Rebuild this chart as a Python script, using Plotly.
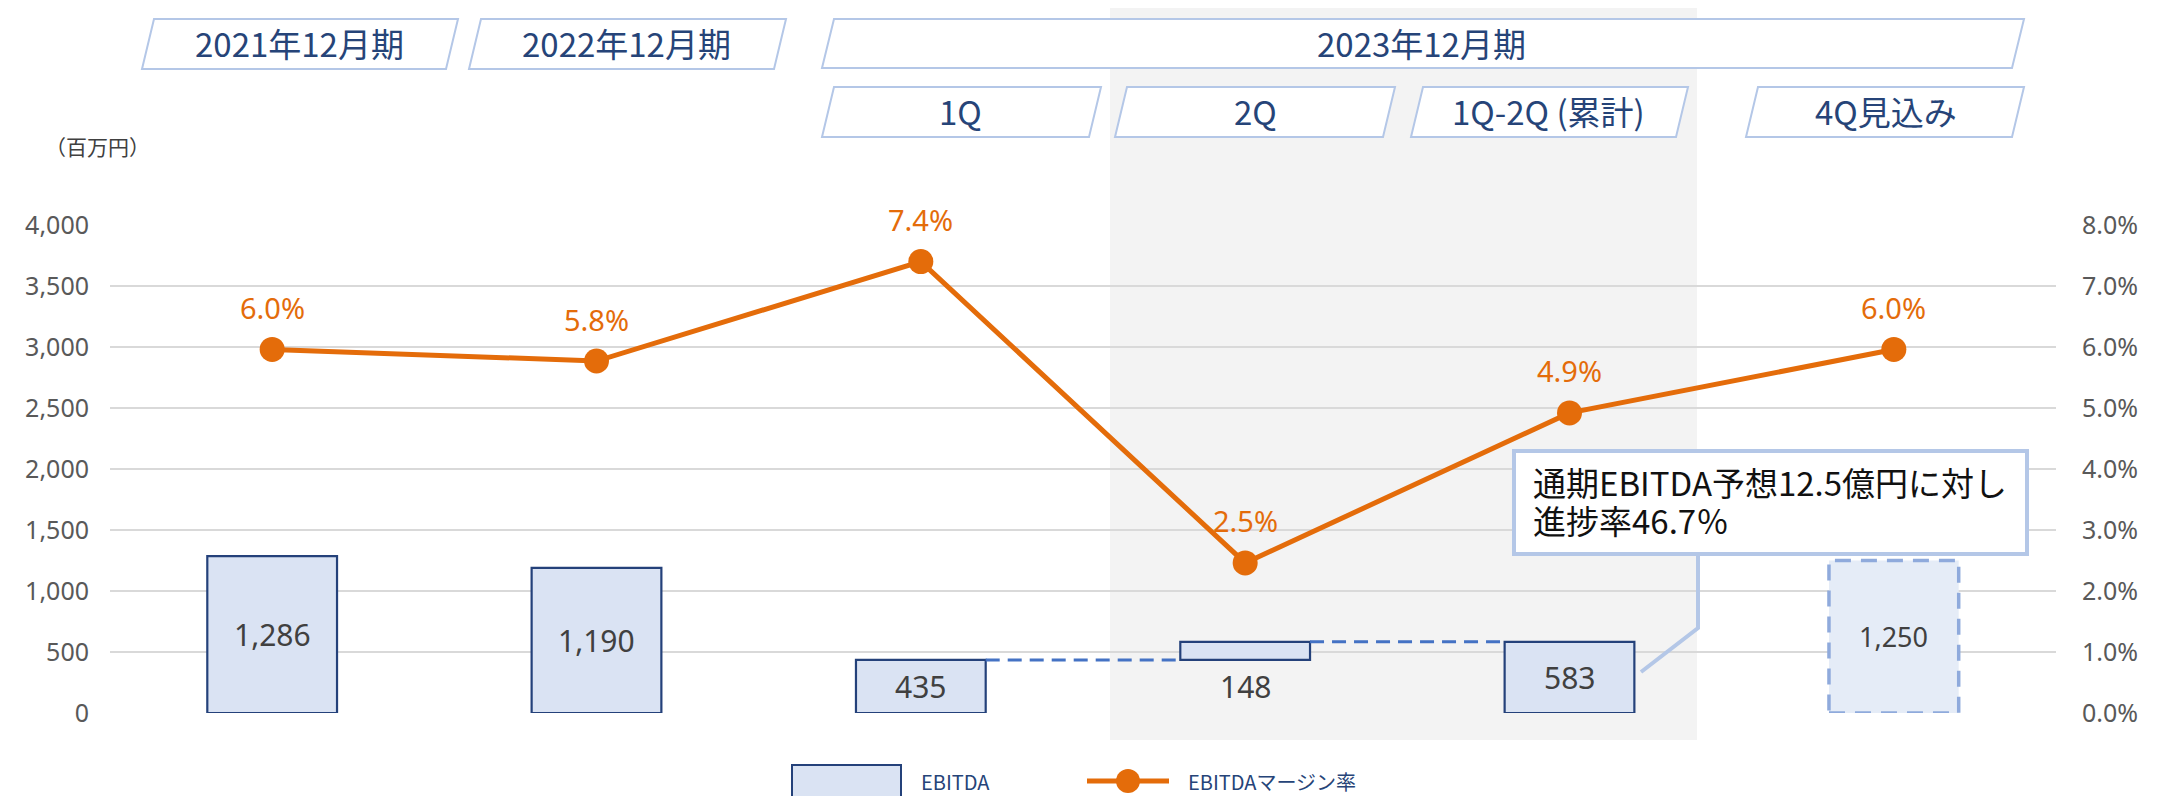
import plotly.graph_objects as go

# ---------------- data ----------------
categories = ["2021年12月期", "2022年12月期", "1Q", "2Q", "1Q-2Q (累計)", "4Q見込み"]
ebitda_actual = [1286, 1190, 435, 148, 583]
ebitda_base = [0, 0, 0, 435, 0]
ebitda_forecast = [1250]
margin_pct = [5.96, 5.77, 7.40, 2.46, 4.92, 5.96]
left_ticks = [0, 500, 1000, 1500, 2000, 2500, 3000, 3500, 4000]
right_ticks = [0, 1, 2, 3, 4, 5, 6, 7, 8]
callout_lines = ["通期EBITDA予想12.5億円に対し", "進捗率46.7％"]
unit_label = "（百万円）"
legend_names = ["EBITDA", "EBITDAマージン率"]

OFF = 8                      # page body margin offset
W, H = 2159 - OFF, 796 - OFF
L, R, T, B = 110, 2056, 225, 713  # plot area in page pixels


def px(x):
    return (x - L) / (R - L)


def py(y):
    return (B - y) / (B - T)


ORANGE = "#E46C0A"
NAVY = "#24417A"
BARFILL = "#DAE3F3"
TXTBLUE = "#264478"
BOXLINE = "#B4C7E7"
JP = "Noto Sans CJK JP"
NUM = "Noto Sans"

fig = go.Figure()

n_act = len(ebitda_actual)
x_act = list(range(n_act))
x_fc = [n_act + i for i in range(len(ebitda_forecast))]
x_all = x_act + x_fc
BW = 0.4

fig.add_trace(go.Bar(
    x=x_act, y=ebitda_actual, base=ebitda_base, width=BW,
    marker=dict(color=BARFILL, line=dict(color=NAVY, width=2.2)),
    name=legend_names[0], showlegend=False, hoverinfo="skip"))
fig.add_trace(go.Bar(
    x=x_fc, y=ebitda_forecast, width=BW,
    marker=dict(color="#E5ECF7", line=dict(width=0)),
    showlegend=False, hoverinfo="skip"))

# dashed connectors between the waterfall steps
fig.add_trace(go.Scatter(
    x=[x_act[2] + BW / 2, x_act[3] - BW / 2], y=[ebitda_actual[2]] * 2,
    mode="lines", line=dict(color="#4472C4", width=3, dash="14px,8px"),
    showlegend=False, hoverinfo="skip"))
top_q2 = ebitda_base[3] + ebitda_actual[3]
fig.add_trace(go.Scatter(
    x=[x_act[3] + BW / 2, x_act[4] - BW / 2], y=[top_q2] * 2,
    mode="lines", line=dict(color="#4472C4", width=3, dash="14px,8px"),
    showlegend=False, hoverinfo="skip"))

fig.add_trace(go.Scatter(
    x=x_all, y=margin_pct, yaxis="y2", mode="lines+markers",
    line=dict(color=ORANGE, width=5), marker=dict(color=ORANGE, size=25),
    name=legend_names[1], showlegend=False, hoverinfo="skip"))

shapes = []
annotations = []

# gray band for 2Q .. 1Q-2Q
shapes.append(dict(type="rect", xref="paper", yref="paper", layer="below",
                   x0=px(1110), x1=px(1697), y0=py(740), y1=py(6),
                   fillcolor="#F3F3F3", line=dict(width=0)))

# dashed outline of forecast bar
for xi, v in zip(x_fc, ebitda_forecast):
    shapes.append(dict(type="rect", xref="x", yref="y", x0=xi - BW / 2, x1=xi + BW / 2,
                       y0=0, y1=v, line=dict(color="#8FAADC", width=3.5, dash="16px,10px"),
                       fillcolor="rgba(0,0,0,0)", layer="above"))


# header parallelogram boxes
def header(xl, xr, ytop, ybot, text, xc):
    sk = 12
    path = (f"M {px(xl+sk)},{py(ytop)} L {px(xr)},{py(ytop)} "
            f"L {px(xr-sk)},{py(ybot)} L {px(xl)},{py(ybot)} Z")
    shapes.append(dict(type="path", xref="paper", yref="paper", path=path,
                       fillcolor="white", line=dict(color=BOXLINE, width=2), layer="above"))
    annotations.append(dict(xref="paper", yref="paper", x=px(xc), y=py((ytop + ybot) / 2 - 1),
                            text=text, showarrow=False, xanchor="center", yanchor="middle",
                            font=dict(family=JP, size=33, color=TXTBLUE)))


header(142, 458, 19, 69, categories[0], 299)
header(469, 786, 19, 69, categories[1], 626)
header(822, 2024, 19, 68, "2023年12月期", 1421)
header(822, 1101, 87, 137, categories[2], 960)
header(1115, 1395, 87, 137, categories[3], 1255)
header(1411, 1688, 87, 137, categories[4], 1548)
header(1746, 2024, 87, 137, categories[5], 1886)

annotations.append(dict(xref="paper", yref="paper", x=px(97), y=py(146), text=unit_label,
                        showarrow=False, xanchor="center", yanchor="middle",
                        font=dict(family=JP, size=21, color="#404040")))

# bar value labels
for i, (v, b) in enumerate(zip(ebitda_actual, ebitda_base)):
    ylab = b + v / 2 if b == 0 else b / 2
    annotations.append(dict(x=i, y=ylab, xref="x", yref="y", text=f"{v:,}", showarrow=False,
                            font=dict(family=NUM, size=30, color="#404040")))
for xi, v in zip(x_fc, ebitda_forecast):
    annotations.append(dict(x=xi, y=v / 2, xref="x", yref="y", text=f"{v:,}", showarrow=False,
                            font=dict(family=NUM, size=27, color="#404040")))

# margin labels
for xi, m in zip(x_all, margin_pct):
    annotations.append(dict(x=xi, y=m, xref="x", yref="y2", text=f"{m:.1f}%", showarrow=False,
                            yshift=42, font=dict(family=NUM, size=29, color=ORANGE)))

# callout
shapes.append(dict(type="rect", xref="paper", yref="paper", x0=px(1514), x1=px(2027),
                   y0=py(554), y1=py(451), fillcolor="white",
                   line=dict(color=BOXLINE, width=4), layer="above"))
shapes.append(dict(type="path", xref="paper", yref="paper", layer="above",
                   path=f"M {px(1698)},{py(554)} L {px(1698)},{py(628)} L {px(1641)},{py(672)}",
                   line=dict(color=BOXLINE, width=4)))
for line, yy in zip(callout_lines, [482, 520]):
    annotations.append(dict(xref="paper", yref="paper", x=px(1531), y=py(yy), text=line,
                            showarrow=False, xanchor="left", yanchor="middle",
                            font=dict(family=JP, size=33, color="#111111")))

# manual legend (bottom, partially clipped as in the reference)
shapes.append(dict(type="rect", xref="paper", yref="paper", x0=px(792), x1=px(901),
                   y0=py(805), y1=py(765), fillcolor=BARFILL, line=dict(color=NAVY, width=2)))
annotations.append(dict(xref="paper", yref="paper", x=px(919), y=py(781), text=legend_names[0],
                        showarrow=False, xanchor="left", yanchor="middle",
                        font=dict(family=JP, size=20, color=TXTBLUE)))
shapes.append(dict(type="line", xref="paper", yref="paper", x0=px(1087), x1=px(1169),
                   y0=py(781), y1=py(781), line=dict(color=ORANGE, width=5)))
shapes.append(dict(type="circle", xref="paper", yref="paper", x0=px(1116), x1=px(1140),
                   y0=py(793), y1=py(769), fillcolor=ORANGE, line=dict(width=0)))
annotations.append(dict(xref="paper", yref="paper", x=px(1186), y=py(781), text=legend_names[1],
                        showarrow=False, xanchor="left", yanchor="middle",
                        font=dict(family=JP, size=20, color=TXTBLUE)))

fig.update_layout(
    width=W, height=H,
    margin=dict(l=L - OFF, r=W - (R - OFF), t=T - OFF, b=H - (B - OFF), pad=0),
    paper_bgcolor="white", plot_bgcolor="rgba(0,0,0,0)",
    barmode="overlay", showlegend=False,
    shapes=shapes, annotations=annotations,
    xaxis=dict(range=[-0.5, len(x_all) - 0.5], showticklabels=False, showgrid=False,
               zeroline=False, showline=False, ticks="", fixedrange=True),
    yaxis=dict(range=[0, 4000], tickvals=left_ticks, tickformat=",", showgrid=True,
               gridcolor="#D9D9D9", gridwidth=1.5, zeroline=False, showline=False, ticks="",
               ticklabelstandoff=20, tickfont=dict(family=NUM, size=25, color="#595959")),
    yaxis2=dict(range=[0, 8], tickvals=right_ticks, ticktext=[f"{t:.1f}%" for t in right_ticks],
                overlaying="y", side="right", showgrid=False, zeroline=False, showline=False,
                ticks="", ticklabelstandoff=25,
                tickfont=dict(family=NUM, size=25, color="#595959")),
)

fig.write_html("out.html")
